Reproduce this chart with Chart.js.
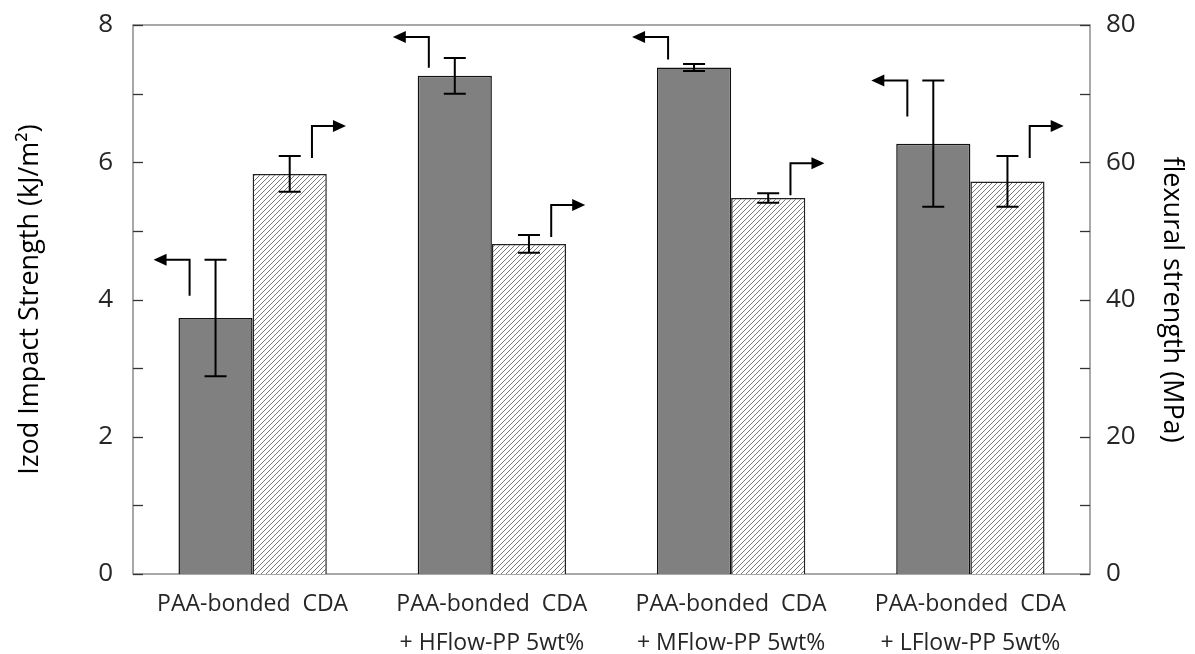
<!DOCTYPE html>
<html>
<head>
<meta charset="utf-8">
<script src="https://cdn.jsdelivr.net/npm/chart.js@4"></script>
<style>
  body { margin: 0; background: #fff; }
  #wrap { width: 1195px; height: 654px; }
</style>
</head>
<body>
<div id="wrap"><canvas id="strength-chart" width="1195" height="654"></canvas></div>
<script>
// categories (x axis, two-line labels)
const categories = [
    ["PAA-bonded  CDA"],
    ["PAA-bonded  CDA", "+ HFlow-PP 5wt%"],
    ["PAA-bonded  CDA", "+ MFlow-PP 5wt%"],
    ["PAA-bonded  CDA", "+ LFlow-PP 5wt%"]
];
const izod = [3.73, 7.26, 7.38, 6.27];          // kJ/m2, left axis
const izodErr = [0.85, 0.26, 0.05, 0.92];
const flexural = [58.3, 48.1, 54.8, 57.2];      // MPa, right axis
const flexuralErr = [2.6, 1.3, 0.7, 3.7];
const leftTicks = [0, 2, 4, 6, 8];
const rightTicks = [0, 20, 40, 60, 80];

// diagonal hatch for the flexural bars
function hatch() {
    const c = document.createElement("canvas");
    c.width = 5; c.height = 5;
    const g = c.getContext("2d");
    g.fillStyle = "#fff";
    g.fillRect(0, 0, 5, 5);
    g.strokeStyle = "#6a6a6a";
    g.lineWidth = 0.9;
    g.beginPath();
    g.moveTo(0, 5); g.lineTo(5, 0);
    g.moveTo(-1, 1); g.lineTo(1, -1);
    g.moveTo(4, 6); g.lineTo(6, 4);
    g.stroke();
    return g.createPattern(c, "repeat");
}

const errs = [izodErr, flexuralErr];

// frame, inward ticks, error bars and the axis arrows
const extras = {
    id: "extras",
    beforeDatasetsDraw(chart) {
        const {ctx, chartArea: a} = chart;
        ctx.save();
        ctx.strokeStyle = "#8c8c8c";
        ctx.lineWidth = 1.5;
        ctx.strokeRect(a.left, a.top, a.right - a.left, a.bottom - a.top);
        ctx.strokeStyle = "#333";
        ctx.lineWidth = 1.3;
        const yl = chart.scales.y, yr = chart.scales.y1;
        for (let v = yl.min; v <= yl.max; v += 1) {
            const p = Math.round(yl.getPixelForValue(v)) + 0.5;
            ctx.beginPath(); ctx.moveTo(a.left, p); ctx.lineTo(a.left + 10, p); ctx.stroke();
        }
        for (let v = yr.min; v <= yr.max; v += 10) {
            const p = Math.round(yr.getPixelForValue(v)) + 0.5;
            ctx.beginPath(); ctx.moveTo(a.right - 10, p); ctx.lineTo(a.right, p); ctx.stroke();
        }
        ctx.restore();
    },
    afterDatasetsDraw(chart) {
        const {ctx, chartArea: a} = chart;
        ctx.save();
        ctx.strokeStyle = "#000";
        ctx.fillStyle = "#000";
        ctx.lineWidth = 2;
        chart.data.datasets.forEach((ds, i) => {
            const meta = chart.getDatasetMeta(i);
            const sc = chart.scales[ds.yAxisID];
            meta.data.forEach((bar, j) => {
                const v = ds.data[j], e = errs[i][j];
                const top = sc.getPixelForValue(v + e);
                const bot = sc.getPixelForValue(v - e);
                ctx.beginPath();
                ctx.moveTo(bar.x, top); ctx.lineTo(bar.x, bot);
                ctx.moveTo(bar.x - 11, top); ctx.lineTo(bar.x + 11, top);
                ctx.moveTo(bar.x - 11, bot); ctx.lineTo(bar.x + 11, bot);
                ctx.stroke();

                // arrow pointing to the axis this bar is read on
                const left = i === 0;
                const vx = left ? bar.x - bar.width * 0.35 : bar.x + bar.width * 0.3;
                let hy = left ? Math.min(top, bar.y - 40) : top - 30;
                hy = Math.max(hy, a.top + 12);
                const vb = left ? Math.min(hy + 36, bar.y - 8) : hy + 32;
                const tip = left ? vx - 36 : vx + 34;
                ctx.beginPath();
                ctx.moveTo(vx, vb);
                ctx.lineTo(vx, hy);
                ctx.lineTo(left ? tip + 10 : tip - 10, hy);
                ctx.stroke();
                ctx.beginPath();
                ctx.moveTo(tip, hy);
                ctx.lineTo(left ? tip + 13 : tip - 13, hy - 6);
                ctx.lineTo(left ? tip + 13 : tip - 13, hy + 6);
                ctx.closePath();
                ctx.fill();
            });
        });
        ctx.restore();
    }
};

const tickFont = {family: "'Open Sans', sans-serif", size: 26};
const titleFont = {family: "'Open Sans', sans-serif", size: 27};

// fixed axis widths; drop the label overhang so the plot top sits at the layout padding
function fitY(width) {
    return s => {
        s.width = width;
        s.paddingTop = 0;
        s.paddingBottom = 0;
    };
}

new Chart("strength-chart", {
    type: "bar",
    data: {
        labels: categories,
        datasets: [
            {
                label: "Izod Impact Strength",
                data: izod,
                yAxisID: "y",
                backgroundColor: "#808080",
                borderColor: "#111",
                borderWidth: 1.5
            },
            {
                label: "flexural strength",
                data: flexural,
                yAxisID: "y1",
                backgroundColor: hatch(),
                borderColor: "#222",
                borderWidth: 1.5
            }
        ]
    },
    options: {
        responsive: false,
        animation: false,
        categoryPercentage: 0.62,
        barPercentage: 1,
        layout: {padding: {top: 25}},
        plugins: {legend: {display: false}, tooltip: {enabled: false}},
        scales: {
            x: {
                grid: {display: false, drawTicks: false},
                border: {display: false},
                ticks: {
                    font: {family: "'Open Sans', sans-serif", size: 23, lineHeight: 1.7},
                    color: "#262626", padding: 11, maxRotation: 0, autoSkip: false
                },
                afterFit: s => { s.height = 80; }
            },
            y: {
                position: "left", min: 0, max: 8,
                grid: {display: false, drawTicks: false},
                border: {display: false},
                afterBuildTicks: s => { s.ticks = leftTicks.map(v => ({value: v})); },
                ticks: {font: tickFont, color: "#262626", padding: 20},
                title: {display: true, text: "Izod Impact Strength (kJ/m²)", font: titleFont, color: "#000", padding: {top: 14}},
                afterFit: fitY(133)
            },
            y1: {
                position: "right", min: 0, max: 80,
                grid: {display: false, drawTicks: false},
                border: {display: false},
                afterBuildTicks: s => { s.ticks = rightTicks.map(v => ({value: v})); },
                ticks: {font: tickFont, color: "#262626", padding: 16},
                title: {display: true, text: "flexural strength (MPa)", font: titleFont, color: "#000", padding: {top: 7}},
                afterFit: fitY(105)
            }
        }
    },
    plugins: [extras]
});
</script>
</body>
</html>
